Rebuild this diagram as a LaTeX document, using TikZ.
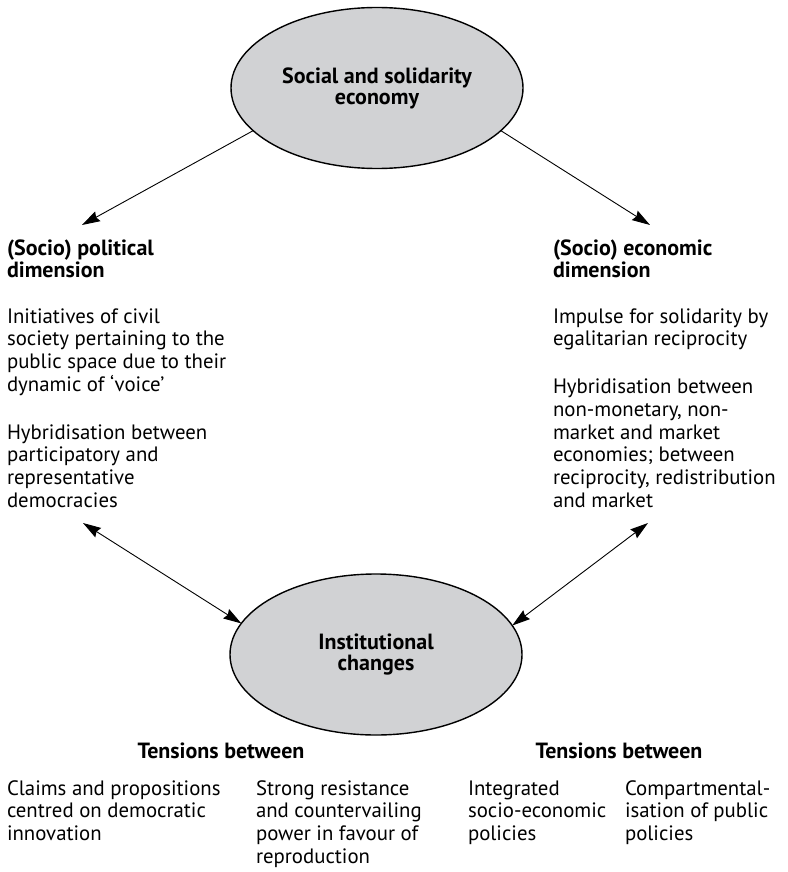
\documentclass[tikz,border=0pt]{standalone}
\usepackage{fontspec}
\setmainfont{PT Sans}
\usetikzlibrary{shapes.geometric,arrows.meta}
\definecolor{ellgray}{HTML}{D1D2D4}
\begin{document}
\begin{tikzpicture}[x=1pt,y=-1pt,
  every node/.style={inner sep=0pt, outer sep=0pt},
  oval/.style={ellipse, draw=black, line width=1.4pt, fill=ellgray,
    minimum width=292pt, minimum height=161pt, align=center,
    font=\fontsize{22}{21}\selectfont\bfseries},
  % base anchor = baseline of the LAST line of a multi-line node
  txt/.style={anchor=base west, align=left, font=\fontsize{20.8}{22.7}\selectfont},
  hd/.style={anchor=base west, align=left, font=\fontsize{22}{22}\selectfont\bfseries},
  hdc/.style={anchor=base, align=center, font=\fontsize{22}{22}\selectfont\bfseries},
  arr/.style={line width=0.9pt, -{Stealth[length=18pt,width=11pt,inset=2pt]}},
  darr/.style={line width=0.9pt, {Stealth[length=18pt,width=11pt,inset=2pt]}-{Stealth[length=18pt,width=11pt,inset=2pt]}}
]
\useasboundingbox (0,0) rectangle (787,872);

% ellipses
\node[oval] (sse) at (377,88) {Social and solidarity\\economy};
\node[oval] (inst) at (376,654.5) {Institutional\\changes};

% left column
\node[hd] (polh) at (7,277) {(Socio) political\\dimension};
\node[txt] (pol1) at (7,391.1) {Initiatives of civil\\society pertaining to the\\public space due to their\\dynamic of `voice'};
\node[txt] (pol2) at (7,507.1) {Hybridisation between\\participatory and\\representative\\democracies};

% right column
\node[hd] (ecoh) at (553,277) {(Socio) economic\\dimension};
\node[txt] (eco1) at (553,345.7) {Impulse for solidarity by\\egalitarian reciprocity};
\node[txt] (eco2) at (553,507.1) {Hybridisation between\\non-monetary, non-\\market and market\\economies; between\\reciprocity, redistribution\\and market};

% bottom
\node[hdc] (tl) at (221,758) {Tensions between};
\node[hdc] (tr) at (619,758) {Tensions between};
\node[txt] (b1) at (7,840.4) {Claims and propositions\\centred on democratic\\innovation};
\node[txt] (b2) at (256,863.1) {Strong resistance\\and countervailing\\power in favour of\\reproduction};
\node[txt] (b3) at (468,840.4) {Integrated\\socio-economic\\policies};
\node[txt] (b4) at (625,840.4) {Compartmental-\\isation of public\\policies};

% arrow ends
\coordinate (la) at (82,225);
\coordinate (ra) at (650,225);
\coordinate (lb) at (83,523);
\coordinate (rb) at (648,523);

\draw[arr] (sse.199) -- (la);
\draw[arr] (sse.-19.5) -- (ra);
\draw[darr] (lb) -- (inst.167.8);
\draw[darr] (rb) -- (inst.12);
\end{tikzpicture}
\end{document}
